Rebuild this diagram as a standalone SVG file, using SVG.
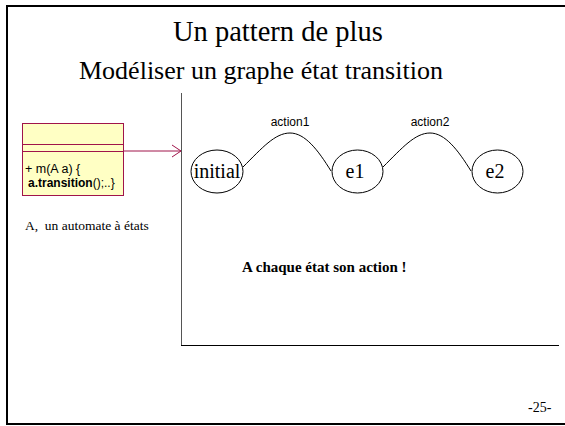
<svg xmlns="http://www.w3.org/2000/svg" width="565" height="426" viewBox="0 0 565 426">
<style>
.serif{font-family:"Liberation Serif","Times New Roman",serif;fill:#000}
.sans{font-family:"Liberation Sans",Arial,sans-serif;fill:#000}
.state{fill:#fff;stroke:#000;stroke-width:1}
.edge{fill:none;stroke:#000;stroke-width:1}
</style>
<rect x="0" y="0" width="565" height="426" fill="#fff"/>
<rect x="7" y="6" width="570" height="418" fill="none" stroke="#000" stroke-width="2"/>
<g id="title">
<text class="serif" x="173" y="41" font-size="28.5">Un pattern de plus</text>
<text class="serif" x="79" y="79" font-size="26">Modéliser un graphe état transition</text>
</g>
<g id="axes">
<line x1="181.5" y1="93" x2="181.5" y2="345" stroke="#555" stroke-width="1"/>
<line x1="181" y1="345.5" x2="559" y2="345.5" stroke="#000" stroke-width="1.2"/>
</g>
<g id="classA">
<rect x="22.5" y="123.5" width="101" height="72" fill="#ffffc4" stroke="#a0144a" stroke-width="1"/>
<line x1="22.5" y1="144.5" x2="123.5" y2="144.5" stroke="#a0144a"/>
<line x1="22.5" y1="151.5" x2="123.5" y2="151.5" stroke="#a0144a"/>
<text class="sans" x="25" y="173" font-size="12.5">+ m(A a) {</text>
<text class="sans" x="28" y="187" font-size="12"><tspan font-weight="bold">a.transition</tspan>();..}</text>
</g>
<text class="serif" x="25" y="230" font-size="13.5" xml:space="preserve">A,  un automate à états</text>
<g id="initial">
<ellipse class="state" cx="217" cy="171.5" rx="26" ry="21.5"/>
<text class="serif" x="217" y="178" font-size="20" text-anchor="middle">initial</text>
</g>
<g id="e1">
<ellipse class="state" cx="357.5" cy="171.5" rx="25.5" ry="21.5"/>
<text class="serif" x="355" y="178" font-size="20" text-anchor="middle">e1</text>
</g>
<g id="e2">
<ellipse class="state" cx="497.5" cy="171.5" rx="25.5" ry="21.5"/>
<text class="serif" x="495" y="178" font-size="20" text-anchor="middle">e2</text>
</g>
<g id="connectors">
<line x1="124" y1="151" x2="181" y2="151" stroke="#a0144a" stroke-width="1"/>
<polyline points="172,145 181,151 172,157" fill="none" stroke="#a0144a" stroke-width="1"/>
<path class="edge" d="M243,167 C262,148 275,133 290,133 C305,133 318,150 331,171"/>
<path class="edge" d="M383,167 C402,148 415,133 430,133 C445,133 458,150 471,171"/>
<text class="sans" x="290" y="126" font-size="12" text-anchor="middle">action1</text>
<text class="sans" x="430" y="126" font-size="12" text-anchor="middle">action2</text>
</g>
<text class="serif" x="242" y="272" font-size="15" font-weight="bold">A chaque état son action !</text>
<text class="serif" x="528" y="412" font-size="14">-25-</text>
</svg>
